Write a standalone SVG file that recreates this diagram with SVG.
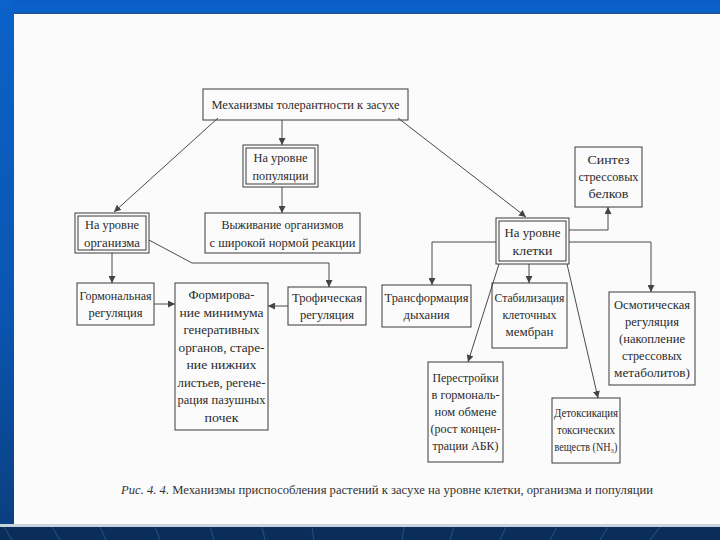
<svg xmlns="http://www.w3.org/2000/svg" width="720" height="540" viewBox="0 0 720 540">
<defs>
<linearGradient id="topg" x1="0" y1="0" x2="0" y2="1"><stop offset="0" stop-color="#0a5ec6"/><stop offset="0.8" stop-color="#0b63cc"/><stop offset="1" stop-color="#1d4f8e"/></linearGradient>
<linearGradient id="leftg" x1="0" y1="0" x2="0" y2="1"><stop offset="0" stop-color="#0b62c9"/><stop offset="0.6" stop-color="#0a55b0"/><stop offset="1" stop-color="#0a3f80"/></linearGradient>
<marker id="ar" viewBox="0 0 10 10" refX="10" refY="5" markerWidth="7" markerHeight="7" orient="auto" markerUnits="userSpaceOnUse"><path d="M0,0 L10,5 L0,10 z" fill="#444"/></marker>
<style>
.box{fill:none;stroke:#3a3a3a;stroke-width:1}
.t{font-family:"Liberation Serif","DejaVu Serif",serif;font-size:12.5px;fill:#2b2b2b;text-anchor:middle}
.c{fill:none;stroke:#4a4a4a;stroke-width:1;marker-end:url(#ar)}
.cap{font-family:"Liberation Serif","DejaVu Serif",serif;font-size:12.5px;fill:#333}
.bl{stroke:#2a5a90;stroke-width:1.2;opacity:0.7}
</style>
</defs>
<rect x="0" y="0" width="720" height="540" fill="#fbfbfb"/>
<rect x="0" y="0" width="720" height="14" fill="url(#topg)"/>
<rect x="0" y="0" width="14" height="527" fill="url(#leftg)"/>
<rect x="0" y="524" width="720" height="3" fill="#c9d3de"/>
<rect x="0" y="527" width="720" height="13" fill="#0b2d5a"/>
<g id="bottom-lines">
<line class="bl" x1="4" y1="527" x2="12" y2="540"/>
<line class="bl" x1="52" y1="527" x2="60" y2="540"/>
<line class="bl" x1="100" y1="527" x2="106" y2="540"/>
<line class="bl" x1="155" y1="527" x2="160" y2="540"/>
<line class="bl" x1="210" y1="527" x2="214" y2="540"/>
<line class="bl" x1="262" y1="527" x2="265" y2="540"/>
<line class="bl" x1="312" y1="527" x2="314" y2="540"/>
<line class="bl" x1="402" y1="540" x2="404" y2="527"/>
<line class="bl" x1="450" y1="540" x2="454" y2="527"/>
<line class="bl" x1="500" y1="540" x2="506" y2="527"/>
<line class="bl" x1="550" y1="540" x2="557" y2="527"/>
<line class="bl" x1="600" y1="540" x2="608" y2="527"/>
<line class="bl" x1="650" y1="540" x2="660" y2="527"/>
</g>

<g id="connectors">
<line class="c" x1="282" y1="120" x2="282" y2="145"/>
<line class="c" x1="218" y1="118" x2="114" y2="212"/>
<line class="c" x1="398" y1="118" x2="526" y2="217"/>
<line class="c" x1="282" y1="187" x2="282" y2="213"/>
<polyline class="c" points="149,240 192,263 329,263 329,287"/>
<line class="c" x1="112" y1="253" x2="112" y2="283"/>
<line class="c" x1="154" y1="304" x2="175" y2="304"/>
<line class="c" x1="288" y1="306" x2="268" y2="306"/>
<polyline class="c" points="569,230 608,230 608,207"/>
<polyline class="c" points="496,242 432,242 432,285"/>
<polyline class="c" points="569,242 651,242 651,292"/>
<line class="c" x1="529" y1="264" x2="529" y2="283"/>
<line class="c" x1="499" y1="264" x2="468" y2="362"/>
<line class="c" x1="567" y1="264" x2="598" y2="398"/>
</g>

<g id="n-root">
<rect class="box" x="203" y="89" width="205" height="31"/>
<text class="t" x="305.5" y="109" textLength="188" lengthAdjust="spacingAndGlyphs">Механизмы толерантности к засухе</text>
</g>
<g id="n-population">
<rect class="box" x="243" y="145" width="75" height="42"/>
<rect class="box" x="246" y="148" width="69" height="36"/>
<text class="t" x="280.5" y="162" textLength="54" lengthAdjust="spacingAndGlyphs">На уровне</text>
<text class="t" x="280.5" y="180" textLength="56" lengthAdjust="spacingAndGlyphs">популяции</text>
</g>
<g id="n-survival">
<rect class="box" x="205" y="213" width="155" height="40"/>
<text class="t" x="282.5" y="229" textLength="122" lengthAdjust="spacingAndGlyphs">Выживание организмов</text>
<text class="t" x="282.5" y="247" textLength="146" lengthAdjust="spacingAndGlyphs">с широкой нормой реакции</text>
</g>
<g id="n-organism">
<rect class="box" x="75" y="213" width="74" height="40"/>
<rect class="box" x="78" y="216" width="68" height="34"/>
<text class="t" x="112" y="229" textLength="54" lengthAdjust="spacingAndGlyphs">На уровне</text>
<text class="t" x="112" y="247" textLength="56" lengthAdjust="spacingAndGlyphs">организма</text>
</g>
<g id="n-hormonal">
<rect class="box" x="77" y="283" width="77" height="42"/>
<text class="t" x="115.5" y="300" textLength="72" lengthAdjust="spacingAndGlyphs">Гормональная</text>
<text class="t" x="115.5" y="317" textLength="54" lengthAdjust="spacingAndGlyphs">регуляция</text>
</g>
<g id="n-formation">
<rect class="box" x="175" y="283" width="93" height="147"/>
<text class="t" x="221.5" y="299" textLength="66" lengthAdjust="spacingAndGlyphs">Формирова-</text>
<text class="t" x="221.5" y="316.5" textLength="84" lengthAdjust="spacingAndGlyphs">ние минимума</text>
<text class="t" x="221.5" y="334" textLength="76" lengthAdjust="spacingAndGlyphs">генеративных</text>
<text class="t" x="221.5" y="351.5" textLength="86" lengthAdjust="spacingAndGlyphs">органов, старе-</text>
<text class="t" x="221.5" y="369" textLength="70" lengthAdjust="spacingAndGlyphs">ние  нижних</text>
<text class="t" x="221.5" y="386.5" textLength="88" lengthAdjust="spacingAndGlyphs">листьев, регене-</text>
<text class="t" x="221.5" y="404" textLength="88" lengthAdjust="spacingAndGlyphs">рация пазушных</text>
<text class="t" x="221.5" y="421.5" textLength="34" lengthAdjust="spacingAndGlyphs">почек</text>
</g>
<g id="n-trophic">
<rect class="box" x="288" y="287" width="78" height="38"/>
<text class="t" x="327" y="302" textLength="70" lengthAdjust="spacingAndGlyphs">Трофическая</text>
<text class="t" x="327" y="319" textLength="54" lengthAdjust="spacingAndGlyphs">регуляция</text>
</g>
<g id="n-cell">
<rect class="box" x="496" y="218" width="73" height="46"/>
<rect class="box" x="499" y="221" width="67" height="40"/>
<text class="t" x="532.5" y="237" textLength="56" lengthAdjust="spacingAndGlyphs">На уровне</text>
<text class="t" x="532.5" y="255" textLength="40" lengthAdjust="spacingAndGlyphs">клетки</text>
</g>
<g id="n-synthesis">
<rect class="box" x="575" y="147" width="67" height="60"/>
<text class="t" x="608.5" y="164" textLength="42" lengthAdjust="spacingAndGlyphs">Синтез</text>
<text class="t" x="608.5" y="181" textLength="60" lengthAdjust="spacingAndGlyphs">стрессовых</text>
<text class="t" x="608.5" y="198" textLength="40" lengthAdjust="spacingAndGlyphs">белков</text>
</g>
<g id="n-respiration">
<rect class="box" x="382" y="285" width="89" height="42"/>
<text class="t" x="426.5" y="302" textLength="84" lengthAdjust="spacingAndGlyphs">Трансформация</text>
<text class="t" x="426.5" y="319" textLength="46" lengthAdjust="spacingAndGlyphs">дыхания</text>
</g>
<g id="n-membranes">
<rect class="box" x="492" y="283" width="75" height="65"/>
<text class="t" x="529.5" y="302" textLength="70" lengthAdjust="spacingAndGlyphs">Стабилизация</text>
<text class="t" x="529.5" y="319" textLength="54" lengthAdjust="spacingAndGlyphs">клеточных</text>
<text class="t" x="529.5" y="336" textLength="48" lengthAdjust="spacingAndGlyphs">мембран</text>
</g>
<g id="n-osmotic">
<rect class="box" x="609" y="292" width="86" height="93"/>
<text class="t" x="652" y="309" textLength="76" lengthAdjust="spacingAndGlyphs">Осмотическая</text>
<text class="t" x="652" y="326" textLength="54" lengthAdjust="spacingAndGlyphs">регуляция</text>
<text class="t" x="652" y="343" textLength="66" lengthAdjust="spacingAndGlyphs">(накопление</text>
<text class="t" x="652" y="360" textLength="60" lengthAdjust="spacingAndGlyphs">стрессовых</text>
<text class="t" x="652" y="377" textLength="76" lengthAdjust="spacingAndGlyphs">метаболитов)</text>
</g>
<g id="n-hormonal-shift">
<rect class="box" x="428" y="362" width="75" height="100"/>
<text class="t" x="465.5" y="382" textLength="66" lengthAdjust="spacingAndGlyphs">Перестройки</text>
<text class="t" x="465.5" y="399" textLength="68" lengthAdjust="spacingAndGlyphs">в гормональ-</text>
<text class="t" x="465.5" y="416" textLength="62" lengthAdjust="spacingAndGlyphs">ном обмене</text>
<text class="t" x="465.5" y="433" textLength="70" lengthAdjust="spacingAndGlyphs">(рост концен-</text>
<text class="t" x="465.5" y="450" textLength="66" lengthAdjust="spacingAndGlyphs">трации АБК)</text>
</g>
<g id="n-detox">
<rect class="box" x="552" y="398" width="68" height="65"/>
<text class="t" x="586" y="417" textLength="64" lengthAdjust="spacingAndGlyphs">Детоксикация</text>
<text class="t" x="586" y="434" textLength="58" lengthAdjust="spacingAndGlyphs">токсических</text>
<text class="t" x="586" y="451" textLength="63" lengthAdjust="spacingAndGlyphs">веществ (NH₃)</text>
</g>
<text class="cap" x="121" y="494" textLength="532" lengthAdjust="spacingAndGlyphs"><tspan font-style="italic">Рис. 4. 4.</tspan> Механизмы приспособления растений к засухе на уровне клетки, организма и популяции</text>
</svg>
